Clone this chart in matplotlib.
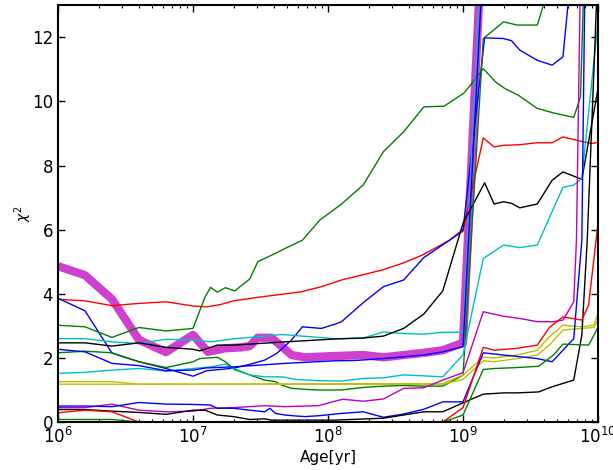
import numpy as np
import matplotlib
matplotlib.use("Agg")
import matplotlib.pyplot as plt

# chi^2 of each model track versus log10(age/yr)
mag_thick_age = [6.0, 6.2, 6.4, 6.6, 6.8, 7.0, 7.11, 7.24, 7.36, 7.42, 7.48, 7.58, 7.66, 7.73, 7.83, 8.05, 8.26, 8.41, 8.71, 8.85, 9.0, 9.15]
mag_thick_chi = [4.86, 4.58, 3.83, 2.56, 2.18, 2.72, 2.19, 2.3, 2.33, 2.37, 2.63, 2.63, 2.35, 2.09, 2.02, 2.06, 2.09, 2.02, 2.16, 2.24, 2.47, 16.0]

red_a_age = [6.0, 6.2, 6.4, 6.6, 6.8, 7.0, 7.1, 7.2, 7.3, 7.5, 7.8, 7.95, 8.1, 8.4, 8.55, 8.7, 8.9, 9.0, 9.15, 9.23, 9.3, 9.42, 9.55, 9.66, 9.74, 9.89, 9.95, 10.0]
red_a_chi = [3.83, 3.78, 3.63, 3.7, 3.75, 3.62, 3.59, 3.66, 3.78, 3.9, 4.06, 4.22, 4.43, 4.74, 4.95, 5.21, 5.67, 5.95, 8.86, 8.58, 8.63, 8.65, 8.71, 8.71, 8.89, 8.74, 8.69, 8.72]

blue_a_age = [6.0, 6.2, 6.4, 6.6, 6.8, 7.0, 7.1, 7.3, 7.42, 7.53, 7.62, 7.73, 7.81, 7.95, 8.05, 8.1, 8.26, 8.41, 8.56, 8.71, 8.9, 9.0, 9.16, 9.3, 9.36, 9.42, 9.55, 9.66, 9.74, 9.8]
blue_a_chi = [3.86, 3.47, 2.15, 1.88, 1.67, 1.43, 1.6, 1.68, 1.8, 1.93, 2.14, 2.56, 2.97, 2.92, 3.05, 3.13, 3.72, 4.22, 4.43, 5.13, 5.67, 6.0, 11.98, 11.96, 11.89, 11.6, 11.28, 11.13, 11.39, 14.0]

blue_b_age = [6.0, 6.2, 6.4, 6.6, 6.8, 7.0, 7.1, 7.3, 7.68, 8.05, 8.2, 8.41, 8.71, 8.85, 9.0, 9.15]
blue_b_chi = [2.27, 2.19, 1.83, 1.76, 1.6, 1.62, 1.69, 1.72, 1.83, 1.91, 1.92, 1.98, 2.09, 2.19, 2.35, 14.5]

green_a_age = [6.0, 6.2, 6.4, 6.6, 6.8, 7.0, 7.09, 7.13, 7.18, 7.24, 7.31, 7.42, 7.48, 7.61, 7.7, 7.81, 7.94, 8.1, 8.26, 8.41, 8.56, 8.71, 8.86, 9.01, 9.15, 9.24, 9.31, 9.41, 9.55, 9.67, 9.82, 9.87, 9.9]
green_a_chi = [3.02, 2.97, 2.64, 2.95, 2.84, 2.92, 3.91, 4.2, 4.05, 4.19, 4.09, 4.46, 5.0, 5.26, 5.45, 5.67, 6.3, 6.8, 7.39, 8.43, 9.05, 9.83, 9.85, 10.27, 11.02, 10.61, 10.4, 10.19, 9.78, 9.64, 9.5, 10.14, 14.4]

green_b_age = [6.0, 6.2, 6.4, 6.6, 6.8, 7.0, 7.05, 7.18, 7.24, 7.3, 7.42, 7.53, 7.61, 7.66, 7.73, 7.83, 7.93, 8.1, 8.26, 8.41, 8.56, 8.71, 8.85, 9.0, 9.15, 9.24, 9.3, 9.4, 9.55, 9.61]
green_b_chi = [2.16, 2.21, 2.16, 1.88, 1.7, 1.88, 1.98, 2.02, 1.88, 1.67, 1.47, 1.31, 1.26, 1.15, 1.05, 1.02, 1.0, 1.0, 1.08, 1.12, 1.14, 1.12, 1.12, 1.46, 11.96, 12.27, 12.48, 12.38, 12.38, 13.2]

green_c_age = [6.0, 6.4, 6.6, 8.85, 9.0, 9.15, 9.23, 9.4, 9.56, 9.67, 9.74, 9.93, 9.99, 10.05]
green_c_chi = [0.08, 0.08, 0.0, 0.0, 0.22, 1.64, 1.67, 1.7, 1.74, 2.09, 2.43, 2.4, 2.87, 3.5]

cyan_a_age = [6.0, 6.2, 6.4, 6.6, 6.8, 7.0, 7.13, 7.31, 7.48, 7.66, 8.05, 8.1, 8.26, 8.41, 8.56, 8.71, 8.85, 9.0, 9.15]
cyan_a_chi = [2.6, 2.6, 2.5, 2.45, 2.58, 2.56, 2.5, 2.6, 2.66, 2.73, 2.6, 2.6, 2.62, 2.81, 2.76, 2.74, 2.8, 2.8, 16.0]

cyan_b_age = [6.0, 6.2, 6.4, 6.6, 6.8, 7.0, 7.13, 7.24, 7.31, 7.42, 7.53, 7.66, 7.76, 7.93, 8.1, 8.26, 8.41, 8.56, 8.71, 8.85, 9.0, 9.15, 9.3, 9.42, 9.55, 9.74, 9.82, 9.88, 10.0]
cyan_b_chi = [1.52, 1.55, 1.62, 1.67, 1.59, 1.67, 1.72, 1.81, 1.62, 1.47, 1.41, 1.41, 1.33, 1.29, 1.28, 1.36, 1.38, 1.47, 1.44, 1.41, 2.1, 5.1, 5.52, 5.44, 5.52, 7.32, 7.39, 7.6, 12.5]

black_a_age = [6.0, 6.2, 6.4, 6.6, 6.8, 7.0, 7.05, 7.18, 7.3, 7.68, 8.05, 8.11, 8.26, 8.41, 8.56, 8.71, 8.85, 9.0, 9.16, 9.23, 9.3, 9.36, 9.42, 9.55, 9.66, 9.74, 9.88, 10.0]
black_a_chi = [2.47, 2.47, 2.37, 2.47, 2.33, 2.27, 2.22, 2.4, 2.4, 2.5, 2.59, 2.6, 2.62, 2.68, 2.92, 3.37, 4.09, 6.2, 7.46, 6.8, 6.87, 6.82, 6.68, 6.8, 7.54, 7.8, 7.57, 10.4]

black_b_age = [6.0, 6.2, 6.4, 6.6, 6.8, 7.0, 7.09, 7.18, 7.3, 7.42, 7.53, 7.58, 8.05, 8.41, 8.71, 8.85, 9.0, 9.15, 9.3, 9.4, 9.56, 9.66, 9.82, 9.88, 9.92, 9.99]
black_b_chi = [0.39, 0.39, 0.34, 0.3, 0.24, 0.37, 0.37, 0.22, 0.17, 0.08, 0.1, 0.06, 0.06, 0.12, 0.32, 0.32, 0.6, 0.87, 0.91, 0.91, 0.94, 1.1, 1.31, 2.71, 5.67, 13.2]

blue_c_age = [6.0, 6.2, 6.4, 6.6, 6.8, 7.0, 7.13, 7.18, 7.3, 7.42, 7.53, 7.57, 7.61, 7.68, 7.76, 7.83, 7.94, 8.1, 8.26, 8.41, 8.56, 8.71, 8.85, 9.0, 9.15, 9.3, 9.55, 9.66, 9.82, 9.88, 9.92]
blue_c_chi = [0.5, 0.5, 0.48, 0.61, 0.56, 0.55, 0.53, 0.43, 0.43, 0.37, 0.32, 0.43, 0.27, 0.22, 0.19, 0.17, 0.2, 0.27, 0.32, 0.15, 0.25, 0.4, 0.63, 0.63, 2.16, 2.09, 1.98, 1.88, 2.6, 5.67, 20.0]

mag_b_age = [6.0, 6.2, 6.4, 6.6, 6.8, 7.0, 7.13, 7.3, 7.53, 7.68, 7.93, 8.05, 8.11, 8.26, 8.41, 8.56, 8.71, 8.85, 9.0, 9.15, 9.3, 9.42, 9.55, 9.67, 9.74, 9.82, 9.84, 9.87]
mag_b_chi = [0.45, 0.45, 0.56, 0.37, 0.32, 0.34, 0.43, 0.45, 0.51, 0.48, 0.51, 0.65, 0.71, 0.65, 0.72, 1.05, 1.07, 1.31, 1.54, 3.44, 3.3, 3.23, 3.13, 3.13, 3.18, 3.75, 5.67, 14.0]

red_b_age = [6.0, 6.2, 6.4, 6.6, 8.85, 9.0, 9.15, 9.23, 9.4, 9.55, 9.64, 9.74, 9.88, 9.93, 10.0]
red_b_chi = [0.29, 0.37, 0.32, 0.0, 0.0, 0.45, 2.33, 2.24, 2.3, 2.4, 2.95, 3.28, 3.18, 3.65, 6.2]

yellow_a_age = [6.0, 6.4, 6.6, 8.85, 9.0, 9.15, 9.23, 9.4, 9.55, 9.64, 9.74, 9.88, 9.97, 10.0]
yellow_a_chi = [1.26, 1.26, 1.18, 1.2, 1.47, 2.02, 2.0, 2.09, 2.24, 2.66, 3.02, 2.97, 3.02, 3.39]

yellow_b_age = [6.0, 6.6, 8.85, 9.0, 9.15, 9.23, 9.4, 9.55, 9.64, 9.74, 9.88, 9.97, 10.0]
yellow_b_chi = [1.18, 1.18, 1.18, 1.33, 1.91, 1.88, 1.98, 2.09, 2.4, 2.87, 2.92, 2.95, 3.18]

tracks = [
    (mag_thick_age, mag_thick_chi, "m", 6.0, 0.75),
    (red_a_age, red_a_chi, "r", 1.0, 1.0),
    (blue_a_age, blue_a_chi, "b", 1.0, 1.0),
    (green_a_age, green_a_chi, "g", 1.0, 1.0),
    (cyan_a_age, cyan_a_chi, "c", 1.0, 1.0),
    (black_a_age, black_a_chi, "k", 1.0, 1.0),
    (green_b_age, green_b_chi, "g", 1.0, 1.0),
    (cyan_b_age, cyan_b_chi, "c", 1.0, 1.0),
    (yellow_a_age, yellow_a_chi, "y", 1.0, 1.0),
    (yellow_b_age, yellow_b_chi, "y", 1.0, 1.0),
    (blue_b_age, blue_b_chi, "b", 1.0, 1.0),
    (mag_b_age, mag_b_chi, "m", 1.0, 1.0),
    (blue_c_age, blue_c_chi, "b", 1.0, 1.0),
    (black_b_age, black_b_chi, "k", 1.0, 1.0),
    (red_b_age, red_b_chi, "r", 1.0, 1.0),
    (green_c_age, green_c_chi, "g", 1.0, 1.0),
]

fig = plt.figure(figsize=(6.13, 4.70), dpi=100)
ax = fig.add_axes([0.0946, 0.102, 0.881, 0.887])

for age, chi, color, lw, alpha in tracks:
    ax.plot(10 ** np.array(age), chi, color=color, lw=lw, alpha=alpha)

ax.set_xscale("log")
ax.set_xlim(1e6, 1e10)
ax.set_ylim(0, 13)
ax.set_yticks(range(0, 13, 2))
ax.set_xlabel("Age[yr]", fontsize=11, labelpad=2)
ax.set_ylabel(r"$\chi^2$", fontsize=10)
ax.yaxis.set_label_coords(-0.045, 0.5)

ax.tick_params(which="both", direction="in", top=True, right=True, labelsize=12)
ax.tick_params(which="major", length=5, width=1)
ax.tick_params(which="minor", length=2.5, width=0.8)
for spine in ax.spines.values():
    spine.set_linewidth(1.5)

fig.savefig("out.png", dpi=100)
